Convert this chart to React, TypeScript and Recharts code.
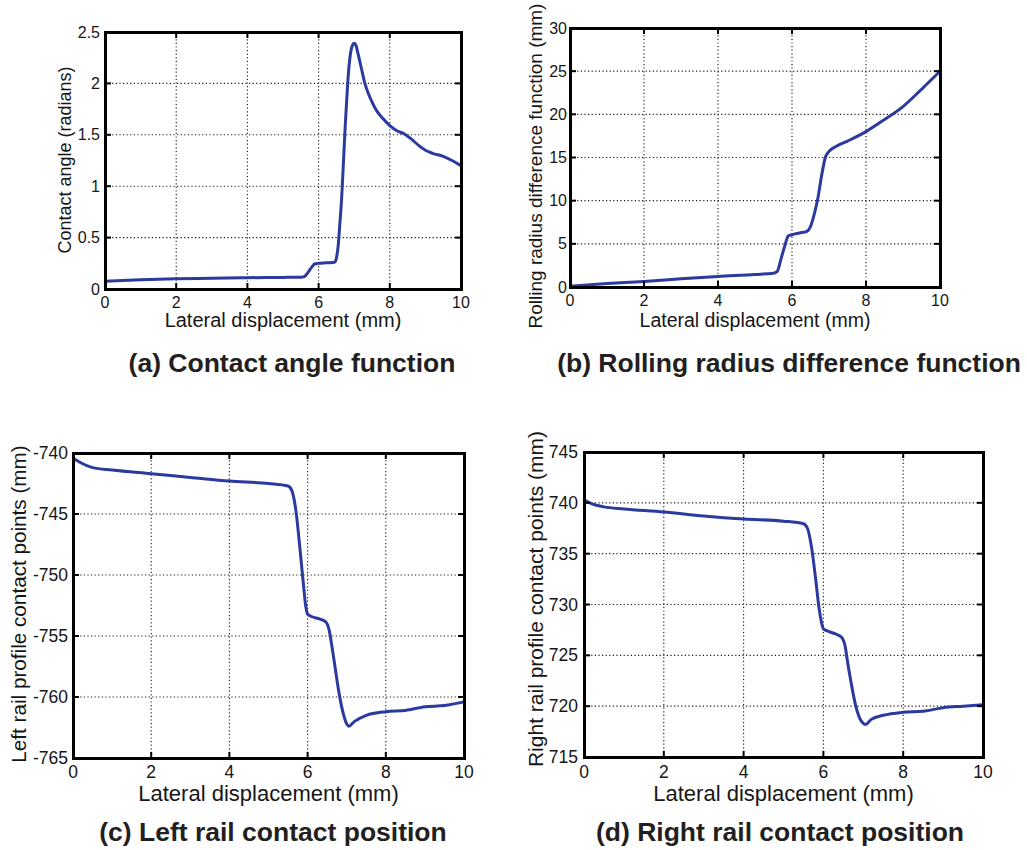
import { LineChart, Line, XAxis, YAxis, CartesianGrid } from 'recharts'

// shared x axis
const xTicks = [0, 2, 4, 6, 8, 10]
const xLabelText = 'Lateral displacement (mm)'

// (a) contact angle
const angleX = [0, 1, 2, 3, 4, 5, 5.5, 5.6, 5.7, 5.8, 5.9, 6.0, 6.2, 6.45, 6.5, 6.55, 6.6, 6.65, 6.7, 6.75, 6.8, 6.85, 6.9, 6.95, 7.0, 7.05, 7.1, 7.2, 7.3, 7.4, 7.5, 7.6, 7.8, 8.0, 8.2, 8.4, 8.6, 8.8, 9.0, 9.2, 9.5, 9.8, 10]
const angleY = [0.075, 0.09, 0.1, 0.105, 0.11, 0.113, 0.115, 0.12, 0.16, 0.21, 0.245, 0.25, 0.255, 0.26, 0.3, 0.42, 0.65, 0.9, 1.25, 1.6, 1.9, 2.15, 2.3, 2.37, 2.39, 2.37, 2.3, 2.15, 2.0, 1.9, 1.82, 1.75, 1.66, 1.59, 1.54, 1.51, 1.46, 1.4, 1.35, 1.32, 1.29, 1.24, 1.2]
const angleTicks = [0, 0.5, 1, 1.5, 2, 2.5]

// (b) rolling radius difference
const rollX = [0, 1, 2, 3, 4, 5, 5.5, 5.6, 5.7, 5.8, 5.9, 6.0, 6.2, 6.4, 6.5, 6.6, 6.7, 6.8, 6.9, 7.0, 7.2, 7.5, 8.0, 8.5, 9.0, 9.5, 10]
const rollY = [0.1, 0.4, 0.65, 0.95, 1.23, 1.45, 1.6, 1.8, 3.2, 4.7, 5.9, 6.05, 6.25, 6.45, 7.0, 8.4, 10.3, 12.9, 15.0, 15.7, 16.3, 16.9, 18.0, 19.4, 20.9, 22.9, 25.0]
const rollTicks = [0, 5, 10, 15, 20, 25, 30]

// (c) left rail contact position
const leftX = [0, 0.2, 0.5, 1, 2, 3, 4, 5, 5.5, 5.6, 5.7, 5.8, 5.9, 5.95, 6.0, 6.1, 6.3, 6.45, 6.55, 6.6, 6.7, 6.8, 6.9, 7.0, 7.05, 7.2, 7.5, 8.0, 8.5, 9.0, 9.5, 10]
const leftY = [-740.4, -740.8, -741.2, -741.4, -741.7, -742.0, -742.3, -742.5, -742.7, -743.1, -744.7, -747.7, -751.0, -752.5, -753.2, -753.4, -753.6, -753.8, -754.5, -755.4, -757.5, -759.6, -761.2, -762.2, -762.4, -762.0, -761.5, -761.2, -761.1, -760.8, -760.7, -760.4]
const leftTicks = [-765, -760, -755, -750, -745, -740]

// (d) right rail contact position
const rightX = [0, 0.2, 0.5, 1, 2, 3, 4, 5, 5.5, 5.6, 5.7, 5.8, 5.9, 6.0, 6.1, 6.3, 6.45, 6.55, 6.6, 6.7, 6.8, 6.9, 7.0, 7.05, 7.2, 7.5, 8.0, 8.5, 9.0, 9.5, 10]
const rightY = [740.3, 739.9, 739.6, 739.4, 739.1, 738.7, 738.4, 738.2, 737.95, 737.5, 735.7, 732.7, 729.4, 727.6, 727.4, 727.1, 726.8, 725.8, 724.5, 722.2, 720.2, 718.9, 718.3, 718.2, 718.7, 719.1, 719.4, 719.5, 719.85, 720.0, 720.15]
const rightTicks = [715, 720, 725, 730, 735, 740, 745]

const FONT = '"Liberation Sans", Arial, Helvetica, sans-serif'
const LINE_COLOR = '#2b3a9e'
const TEXT_COLOR = '#161616'

const toRows = (xs: number[], ys: number[]) => xs.map((x, i) => ({ x, y: ys[i] }))

// page coords: box = [left, top, width, height], plot = [left, top, right, bottom]
const panels = [
  {
    key: 'a', xs: angleX, ys: angleY, yTicks: angleTicks,
    yLabel: 'Contact angle (radians)', caption: '(a) Contact angle function',
    box: [0, 0, 480, 340], plot: [105, 32, 461, 289],
    tickFont: 16, xTickDy: 13, yTickGap: 5,
    xLabelFont: 20, xLabelDy: 31, yLabelFont: 18, yLabelX: 65, yLabelY: 160,
    capX: 292, capY: 363,
  },
  {
    key: 'b', xs: rollX, ys: rollY, yTicks: rollTicks,
    yLabel: 'Rolling radius difference function (mm)', caption: '(b) Rolling radius difference function',
    box: [500, 0, 527, 340], plot: [570, 28, 940, 287],
    tickFont: 16, xTickDy: 13, yTickGap: 3,
    xLabelFont: 19.5, xLabelDy: 33, yLabelFont: 19, yLabelX: 535, yLabelY: 166,
    capX: 789, capY: 363,
  },
  {
    key: 'c', xs: leftX, ys: leftY, yTicks: leftTicks,
    yLabel: 'Left rail profile contact points (mm)', caption: '(c) Left rail contact position',
    box: [0, 420, 500, 430], plot: [73, 453, 464, 758],
    tickFont: 17.5, xTickDy: 14, yTickGap: 5,
    xLabelFont: 22, xLabelDy: 35, yLabelFont: 20.7, yLabelX: 18, yLabelY: 604,
    capX: 273, capY: 832,
  },
  {
    key: 'd', xs: rightX, ys: rightY, yTicks: rightTicks,
    yLabel: 'Right rail profile contact points (mm)', caption: '(d) Right rail contact position',
    box: [510, 420, 517, 430], plot: [584, 452, 983, 757],
    tickFont: 17.5, xTickDy: 15, yTickGap: 6,
    xLabelFont: 22, xLabelDy: 36, yLabelFont: 21, yLabelX: 535, yLabelY: 599,
    capX: 780, capY: 832,
  },
]

const X_AXIS_H = 30
const FRAME_W = 3

function Panel({ cfg }: { cfg: (typeof panels)[number] }) {
  const [bx, by, bw, bh] = cfg.box
  // plot box in chart coords
  const l = cfg.plot[0] - bx
  const t = cfg.plot[1] - by
  const r = cfg.plot[2] - bx
  const b = cfg.plot[3] - by
  const data = toRows(cfg.xs, cfg.ys)
  const yDomain = [cfg.yTicks[0], cfg.yTicks[cfg.yTicks.length - 1]]

  // matlab style: ticks point inwards on all four sides
  const XTick = (props: any) => {
    const { x, payload } = props
    return (
      <g>
        <line x1={x} x2={x} y1={b} y2={b - 6} stroke="#000" strokeWidth={2} />
        <line x1={x} x2={x} y1={t} y2={t + 6} stroke="#000" strokeWidth={2} />
        <text x={x} y={b + cfg.xTickDy} textAnchor="middle" dominantBaseline="central"
          fontSize={cfg.tickFont} fontFamily={FONT} fill={TEXT_COLOR}>{payload.value}</text>
      </g>
    )
  }

  const YTick = (props: any) => {
    const { y, payload } = props
    return (
      <g>
        <line x1={l} x2={l + 6} y1={y} y2={y} stroke="#000" strokeWidth={2} />
        <line x1={r} x2={r - 6} y1={y} y2={y} stroke="#000" strokeWidth={2} />
        <text x={l - cfg.yTickGap} y={y} textAnchor="end" dominantBaseline="central"
          fontSize={cfg.tickFont} fontFamily={FONT} fill={TEXT_COLOR}>{payload.value}</text>
      </g>
    )
  }

  const xLabel = () => (
    <text x={(l + r) / 2} y={b + cfg.xLabelDy} textAnchor="middle" dominantBaseline="central"
      fontSize={cfg.xLabelFont} fontFamily={FONT} fill={TEXT_COLOR}>{xLabelText}</text>
  )

  const yx = cfg.yLabelX - bx
  const yy = cfg.yLabelY - by
  const yLabel = () => (
    <text x={yx} y={yy} transform={`rotate(-90 ${yx} ${yy})`} textAnchor="middle" dominantBaseline="central"
      fontSize={cfg.yLabelFont} fontFamily={FONT} fill={TEXT_COLOR}>{cfg.yLabel}</text>
  )

  return (
    <div style={{ position: 'absolute', left: bx, top: by, width: bw, height: bh }}>
      <LineChart
        width={bw}
        height={bh}
        data={data}
        margin={{ top: t, right: bw - r, left: 0, bottom: bh - b - X_AXIS_H }}
      >
        <CartesianGrid stroke="#1a1a1a" strokeDasharray="1.2 2.4" strokeWidth={1.1} />
        <XAxis
          type="number"
          dataKey="x"
          domain={[0, 10]}
          ticks={xTicks}
          interval={0}
          height={X_AXIS_H}
          axisLine={false}
          tickLine={false}
          tick={XTick}
          label={{ content: xLabel }}
        />
        <YAxis
          type="number"
          domain={yDomain}
          ticks={cfg.yTicks}
          interval={0}
          width={l}
          allowDataOverflow
          axisLine={false}
          tickLine={false}
          tick={YTick}
          label={{ content: yLabel }}
        />
        <Line
          type="monotone"
          dataKey="y"
          stroke={LINE_COLOR}
          strokeWidth={3}
          dot={false}
          isAnimationActive={false}
        />
      </LineChart>
      {/* axes box */}
      <div
        style={{
          position: 'absolute',
          left: l - FRAME_W / 2,
          top: t - FRAME_W / 2,
          width: r - l - FRAME_W,
          height: b - t - FRAME_W,
          border: `${FRAME_W}px solid #000`,
          pointerEvents: 'none',
        }}
      />
      <div
        style={{
          position: 'absolute',
          left: cfg.capX - bx - 300,
          top: cfg.capY - by - 16,
          width: 600,
          height: 32,
          lineHeight: '32px',
          textAlign: 'center',
          fontFamily: FONT,
          fontWeight: 'bold',
          fontSize: 26.5,
          color: '#231f20',
          whiteSpace: 'nowrap',
        }}
      >
        {cfg.caption}
      </div>
    </div>
  )
}

export default function App() {
  return (
    <div style={{ position: 'absolute', left: 0, top: 0, width: 1027, height: 850, background: '#fff', overflow: 'hidden' }}>
      {panels.map((p) => (
        <Panel key={p.key} cfg={p} />
      ))}
    </div>
  )
}
